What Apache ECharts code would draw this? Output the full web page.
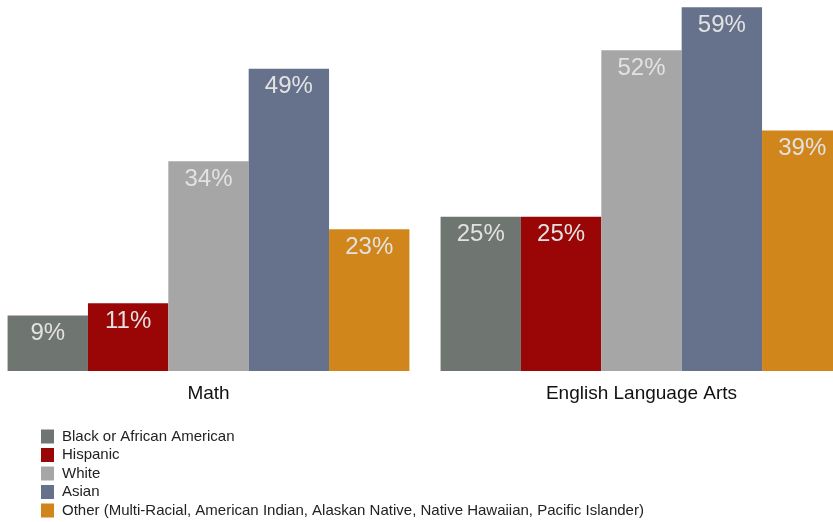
<!DOCTYPE html>
<html>
<head>
<meta charset="utf-8">
<script src="https://cdn.jsdelivr.net/npm/echarts@6/dist/echarts.min.js"></script>
<style>
  html, body { margin: 0; padding: 0; background: #fff; overflow: hidden; }
  body { width: 833px; height: 522px; position: relative; }
  #chart { position: absolute; left: -8px; top: 0; width: 866px; height: 522px; }
</style>
</head>
<body>
<div id="chart"></div>
<script>
const subjects = ["Math", "English Language Arts"];
const groupNames = [
  "Black or African American",
  "Hispanic",
  "White",
  "Asian",
  "Other (Multi-Racial, American Indian, Alaskan Native, Native Hawaiian, Pacific Islander)",
];
const black = [9, 25];
const hispanic = [11, 25];
const white = [34, 52];
const asian = [49, 59];
const other = [23, 39];
const groupColors = ["#6f7571", "#990605", "#a6a6a6", "#66728b", "#d0861a"];

const chart = echarts.init(document.getElementById("chart"));
const seriesValues = [black, hispanic, white, asian, other];
const font = "Liberation Sans, Arial, sans-serif";

const option = {
  animation: false,
  grid: { left: 0, top: 1, right: 0, height: 370, containLabel: false },
  legend: {
    orient: "vertical",
    left: 44,
    top: 424,
    height: 100,
    itemWidth: 13,
    itemHeight: 14,
    itemGap: 3.5,
    icon: "rect",
    textStyle: {
      fontFamily: font,
      fontSize: 15,
      color: "#222",
      padding: [0, 0, 0, 3],
    },
    data: groupNames,
  },
  xAxis: {
    type: "category",
    data: subjects,
    axisLine: { show: false },
    axisTick: { show: false },
    axisLabel: {
      margin: 13,
      fontFamily: font,
      fontSize: 19,
      color: "#111",
    },
  },
  yAxis: {
    type: "value",
    min: 0,
    max: 60,
    show: false,
    splitLine: { show: false },
  },
  series: seriesValues.map((vals, i) => ({
    name: groupNames[i],
    type: "bar",
    data: vals,
    barGap: "0%",
    barCategoryGap: "7.2%",
    itemStyle: { color: groupColors[i] },
    label: {
      show: true,
      position: "insideTop",
      distance: 6,
      formatter: "{c}%",
      fontFamily: font,
      fontSize: 24,
      color: "#e2e2e2",
    },
  })),
};

chart.setOption(option);
</script>
</body>
</html>
